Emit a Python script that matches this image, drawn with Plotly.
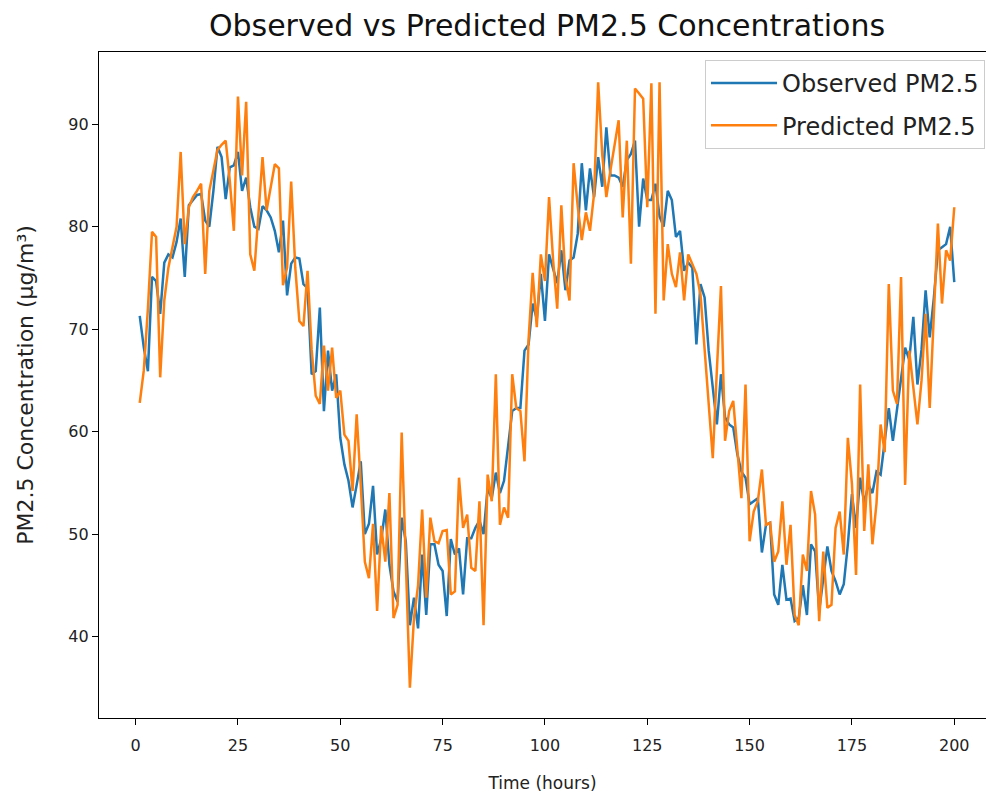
import plotly.graph_objects as go

hours = list(range(1, 201))

observed = [
    71.3, 68.2, 65.9, 75.1, 74.7, 71.5, 76.5, 77.3, 77.0, 78.5,
    80.8, 75.1, 82.1, 82.6, 83.1, 83.2, 80.6, 80.0, 83.5, 87.8,
    86.8, 82.7, 85.8, 86.0, 87.3, 83.5, 84.8, 81.9, 80.0, 79.8,
    82.0, 81.6, 80.9, 79.6, 77.5, 80.6, 73.3, 76.4, 77.0, 76.9,
    74.4, 74.0, 65.6, 65.9, 72.1, 62.0, 67.9, 64.0, 65.6, 59.4,
    56.8, 55.2, 52.6, 54.8, 57.1, 50.0, 51.0, 54.7, 48.0, 49.5,
    52.4, 47.0, 44.4, 43.4, 51.6, 49.3, 41.1, 43.8, 40.8, 48.0,
    42.1, 49.0, 49.0, 47.0, 46.4, 42.0, 49.5, 48.0, 48.6, 44.1,
    49.6, 49.6, 50.6, 51.3, 50.0, 54.5, 53.5, 56.0, 54.0, 55.2,
    58.4, 62.0, 62.3, 62.3, 67.9, 68.5, 72.5, 71.0, 75.4, 70.8,
    77.3, 76.0, 74.5, 77.7, 73.8, 76.7, 77.0, 79.3, 86.2, 81.6,
    85.7, 82.9, 86.8, 83.9, 89.7, 85.0, 85.0, 84.8, 83.9, 86.5,
    87.1, 88.4, 80.0, 84.7, 82.6, 82.6, 84.2, 81.0, 80.0, 83.5,
    82.6, 79.0, 79.6, 75.7, 76.5, 76.0, 68.5, 74.4, 73.1, 67.9,
    64.3, 60.7, 65.6, 61.4, 60.7, 60.4, 57.8, 56.1, 55.5, 52.9,
    53.2, 53.5, 48.2, 50.9, 51.1, 44.1, 43.1, 47.0, 43.6, 43.7,
    41.5, 41.8, 45.0, 42.1, 49.0, 48.3, 42.5, 45.5, 48.8, 46.4,
    45.4, 44.1, 45.1, 49.0, 53.9, 50.6, 55.5, 53.0, 54.8, 54.0,
    56.1, 55.8, 58.8, 62.3, 59.1, 62.0, 65.0, 68.2, 67.0, 71.2,
    64.6, 68.0, 73.8, 69.2, 73.0, 77.7, 78.0, 78.3, 80.0, 74.6,
]

predicted = [
    62.8, 66.0, 72.0, 79.5, 79.0, 65.3, 72.8, 76.0, 78.0, 80.0,
    87.3, 78.3, 81.9, 82.9, 83.5, 84.2, 75.4, 83.5, 85.5, 87.5,
    88.0, 88.4, 84.5, 79.6, 92.7, 85.0, 92.2, 77.3, 75.7, 81.3,
    86.8, 81.6, 83.9, 86.1, 85.7, 74.3, 76.0, 84.4, 76.0, 70.8,
    70.3, 75.7, 68.0, 63.5, 62.7, 68.4, 64.0, 68.2, 63.3, 64.0,
    59.7, 59.1, 54.2, 61.7, 54.8, 47.3, 45.7, 51.0, 42.5, 50.8,
    47.3, 54.0, 41.8, 43.1, 59.9, 48.3, 35.0, 41.8, 45.0, 52.4,
    43.8, 51.6, 49.3, 49.1, 50.3, 50.4, 44.1, 44.4, 55.5, 50.6,
    51.9, 46.7, 46.4, 53.2, 41.1, 55.8, 53.2, 65.6, 50.9, 52.6,
    51.6, 65.6, 62.3, 62.0, 57.1, 69.0, 75.5, 70.2, 77.3, 74.7,
    82.9, 76.7, 72.0, 82.1, 75.0, 72.8, 86.2, 82.0, 78.7, 81.4,
    79.6, 83.2, 94.1, 87.0, 82.9, 85.5, 87.8, 90.4, 80.9, 88.4,
    76.4, 93.5, 93.0, 92.5, 81.9, 94.0, 71.5, 94.1, 72.8, 78.3,
    75.4, 74.1, 77.5, 72.8, 77.3, 76.4, 75.4, 73.4, 67.9, 63.0,
    57.4, 66.0, 74.2, 59.1, 62.0, 63.0, 58.1, 53.5, 64.6, 49.3,
    52.2, 53.2, 56.3, 50.9, 51.1, 47.3, 48.3, 53.2, 47.0, 50.9,
    42.1, 41.1, 48.0, 46.4, 54.2, 51.9, 41.5, 48.3, 42.8, 43.1,
    50.6, 52.2, 48.0, 59.4, 54.9, 46.0, 64.6, 50.3, 56.8, 49.0,
    53.0, 60.7, 58.0, 74.4, 64.0, 62.7, 75.1, 54.8, 67.9, 64.6,
    60.7, 65.0, 71.5, 62.3, 71.2, 80.3, 72.5, 77.7, 76.7, 81.9,
]

x_ticks = [0, 25, 50, 75, 100, 125, 150, 175, 200]
y_ticks = [40, 50, 60, 70, 80, 90]

title_text = "Observed vs Predicted PM2.5 Concentrations"
x_label = "Time (hours)"
y_label = "PM2.5 Concentration (µg/m³)"

# matplotlib-like 5% auto margins
xmin, xmax = min(hours), max(hours)
xpad = (xmax - xmin) * 0.05
allv = observed + predicted
ymin, ymax = min(allv), max(allv)
ypad = (ymax - ymin) * 0.05

# the original axes box runs slightly past the right edge of the picture
W, H = 986, 799
ml, mt, mb = 99, 52, 81
full_axes_px = 896
visible_px = W - ml
x_lo = xmin - xpad
x_hi_full = xmax + xpad
x_hi = x_lo + (x_hi_full - x_lo) * visible_px / full_axes_px

font = "DejaVu Sans"

fig = go.Figure()
fig.add_trace(go.Scatter(x=hours, y=observed, mode="lines", name="Observed PM2.5",
                         legendgroup="a",
                         line=dict(color="#1f77b4", width=2.5)))
fig.add_trace(go.Scatter(x=hours, y=predicted, mode="lines", name="Predicted PM2.5",
                         legendgroup="b",
                         line=dict(color="#ff7f0e", width=2.5)))

tick_common = dict(showline=True, linecolor="black", linewidth=1.2,
                   ticks="outside", ticklen=6, tickwidth=1.2, tickcolor="black",
                   showgrid=False, zeroline=False,
                   tickfont=dict(family=font, size=16, color="#222"))

fig.update_layout(
    width=W, height=H,
    paper_bgcolor="white", plot_bgcolor="white",
    margin=dict(l=ml, r=0, t=mt, b=mb, autoexpand=False),
    title=dict(text=title_text, x=(full_axes_px / 2) / visible_px, xref="paper", xanchor="center",
               y=1 - 25 / H, yanchor="middle",
               font=dict(family=font, size=30, color="#111")),
    xaxis=dict(range=[x_lo, x_hi], tickvals=x_ticks, mirror=True, ticklabelstandoff=7,
               title=dict(text=x_label, font=dict(family=font, size=17, color="#222"), standoff=22),
               **tick_common),
    yaxis=dict(range=[ymin - ypad, ymax + ypad], tickvals=y_ticks, mirror=False,
               title=dict(text=y_label, font=dict(family=font, size=22, color="#222"), standoff=28),
               **tick_common),
    legend=dict(x=(985 - ml) / visible_px, y=(H - mb - 60) / (H - mt - mb),
                xanchor="right", yanchor="top",
                bgcolor="rgba(255,255,255,0.8)", bordercolor="#cccccc", borderwidth=1,
                font=dict(family=font, size=24, color="#222"), tracegroupgap=8,
                itemwidth=66),
    showlegend=True,
)

fig.write_html("out.html", config={"displayModeBar": False},
               post_script="document.body.style.margin='0';document.body.style.overflow='hidden';")
